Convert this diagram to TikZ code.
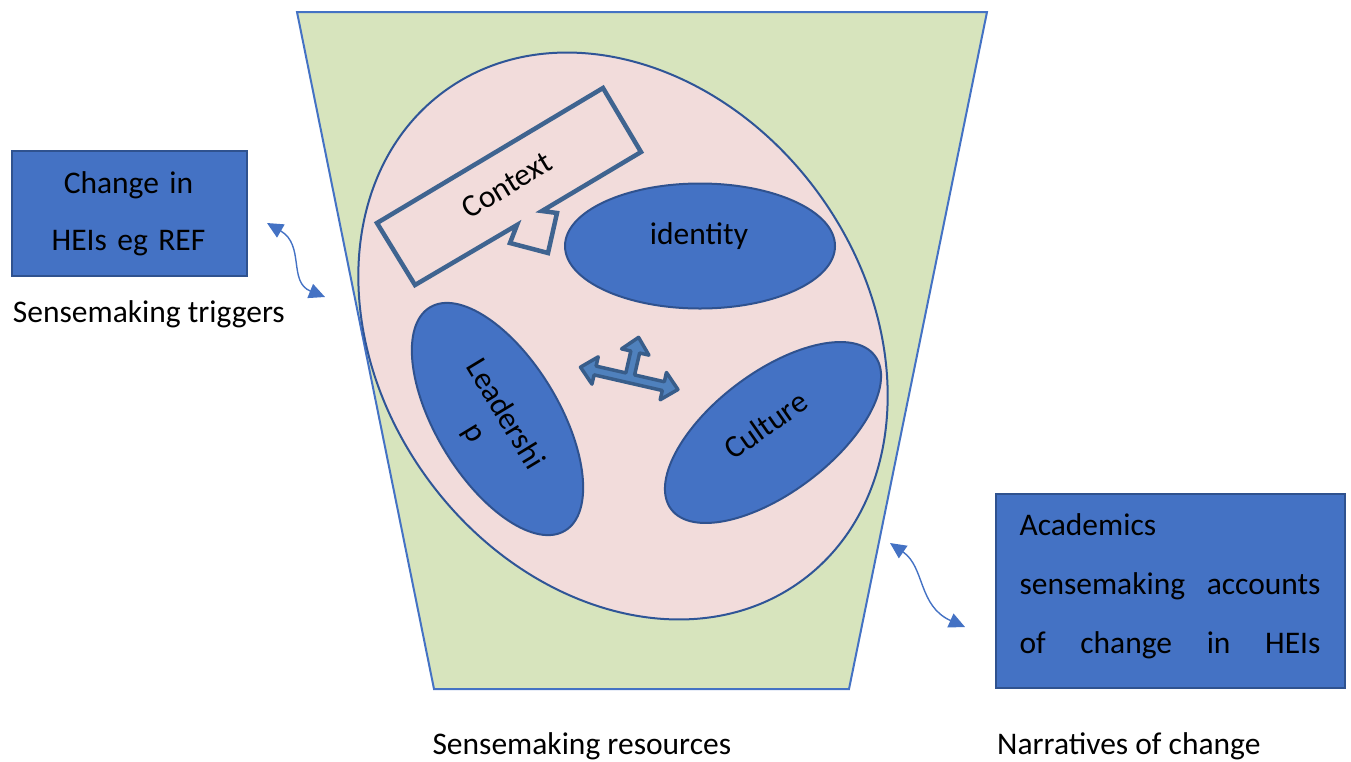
\documentclass[tikz,border=0pt]{standalone}
\usepackage{fontspec}
\setmainfont{Carlito}
\usetikzlibrary{shapes.geometric,arrows.meta}
\definecolor{funnelfill}{HTML}{D7E4BD}
\definecolor{funnelline}{HTML}{4472C4}
\definecolor{poolfill}{HTML}{F2DCDB}
\definecolor{poolline}{HTML}{2F5597}
\definecolor{blobfill}{HTML}{4472C4}
\definecolor{blobline}{HTML}{2F528F}
\definecolor{calloutline}{HTML}{3F6490}
\definecolor{arrowfill}{HTML}{4F81BD}
\definecolor{arrowline}{HTML}{385D8A}
\newcommand{\labelfont}{\fontsize{31.5}{38}\selectfont}
\newcommand{\spreadline}[1]{\leavevmode\hbox to 301pt{#1}}

\begin{document}
\begin{tikzpicture}[x=1pt,y=-1pt,
  blob/.style={ellipse, draw=blobline, fill=blobfill, line width=2pt, inner sep=0pt},
  box/.style={rectangle, draw=blobline, fill=blobfill, line width=1.5pt, inner sep=0pt, anchor=north west},
  lbl/.style={inner sep=0pt, font=\labelfont},
  swing/.style={draw=funnelline, line width=1.4pt, >={Triangle[length=16pt,width=15pt]}, <->},
]
\useasboundingbox (0,0) rectangle (1351,761);

% funnel
\path[draw=funnelline, fill=funnelfill, line width=2pt]
  (297,12) -- (987,12) -- (849,689) -- (434,689) -- cycle;

% pool of sensemaking resources
\node[ellipse, draw=poolline, fill=poolfill, line width=2pt, inner sep=0pt,
      minimum width=606pt, minimum height=484pt, rotate=-54] (pool) at (623,336) {};

% context callout
\draw[draw=calloutline, line width=4.5pt, line join=miter]
  (377,223) -- (603,88) -- (641,152) -- (542,211) -- (557,213) -- (548,253)
  -- (510,243) -- (517,225) -- (415,285) -- cycle;
\node[lbl, rotate=31] (context) at (507,185) {Context};

% resources
\node[blob, minimum width=270pt, minimum height=125pt] (identity) at (700,246) {};
\node[lbl] (identitytext) at (699,236) {identity};
\node[blob, minimum width=261pt, minimum height=123pt, rotate=-58.8] (leader) at (497.5,419) {};
\node[lbl, align=center, text width=160pt, rotate=-58.8, font=\fontsize{31.5}{35}\selectfont]
  (leadertext) at (489.4,424) {Leadershi\\p};
\node[blob, minimum width=255pt, minimum height=120pt, rotate=37] (culture) at (773,432.5) {};
\node[lbl, rotate=35] (culturetext) at (765.7,425) {Culture};

% three-way arrow
\begin{scope}[shift={(629.2,378.3)}, rotate=-12.9]
\draw[draw=arrowline, fill=arrowfill, line width=3.5pt, line join=round]
  (-50,0) -- (-35,-14) -- (-35,-4.5) -- (-4.5,-4.5) -- (-4.5,-27) -- (-14,-27) -- (0,-42)
  -- (14,-27) -- (4.5,-27) -- (4.5,-4.5) -- (35,-4.5) -- (35,-14) -- (50,0)
  -- (35,14) -- (35,4.5) -- (-35,4.5) -- (-35,14) -- cycle;
\end{scope}

% trigger box
\node[box, minimum width=235pt, minimum height=125pt] (trigger) at (11,150) {};
\node[lbl, anchor=north, align=center, text width=235pt, font=\fontsize{31.5}{57}\selectfont]
  (triggertext) at (128.5,169.3) {\rule{0pt}{24pt}\mbox{Change in}\\\mbox{HEIs eg REF}};

% accounts box
\node[box, minimum width=349pt, minimum height=194pt] (accounts) at (995,493) {};
\node[lbl, anchor=north west, align=left, text width=301pt, font=\fontsize{31.5}{59}\selectfont]
  (accountstext) at (1019.3,511)
  {\rule{0pt}{24pt}\mbox{Academics}\\\spreadline{sensemaking\hfill accounts}\\\spreadline{of\hfill change\hfill in\hfill HEIs}};

% captions
\node[lbl, anchor=base west] (triggerlabel) at (12.7,322.7) {Sensemaking triggers};
\node[lbl, anchor=base west] (resourcelabel) at (432.3,754) {Sensemaking resources};
\node[lbl, anchor=base west] (narrativelabel) at (997,754) {Narratives of change};

% curved two-way connectors
\coordinate (ta) at (267,223);
\coordinate (tb) at (325,297);
\draw[swing] (ta) .. controls (305,245) and (288,282) .. (tb);
\coordinate (na) at (890,543);
\coordinate (nb) at (965,627);
\draw[swing] (na) .. controls (925,567) and (918,606) .. (nb);
\end{tikzpicture}
\end{document}
